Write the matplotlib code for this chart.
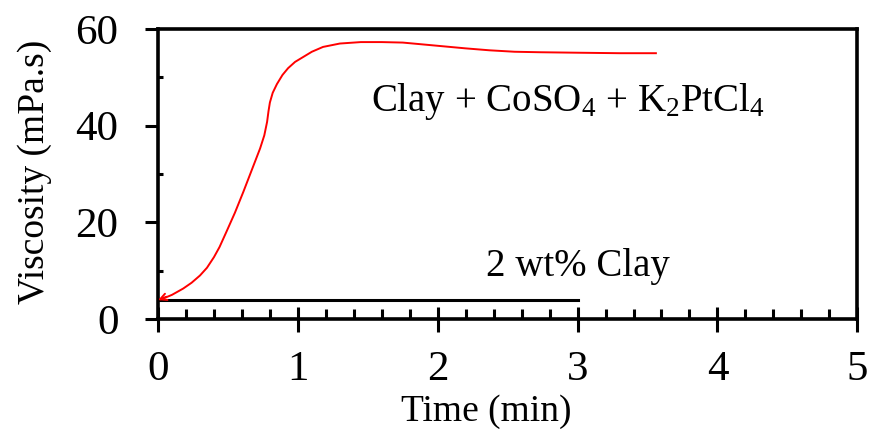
import matplotlib
matplotlib.use('Agg')
import matplotlib.pyplot as plt
import matplotlib.ticker as ticker

# data
clay_time = [0.0, 3.0]
clay_visc = [3.9, 3.9]

mix_time = [0.00, 0.05, 0.10, 0.18, 0.24, 0.30, 0.35, 0.40, 0.44, 0.49, 0.55, 0.61,
            0.67, 0.73, 0.76, 0.78, 0.79, 0.80, 0.82, 0.85, 0.89, 0.93, 0.98, 1.02,
            1.10, 1.18, 1.30, 1.45, 1.60, 1.75, 1.90, 2.05, 2.20, 2.37, 2.55, 2.73,
            3.00, 3.30, 3.56]
mix_visc = [3.9, 4.4, 5.0, 6.3, 7.5, 9.0, 10.6, 12.8, 14.9, 18.1, 22.0, 26.3,
            30.8, 35.3, 38.0, 40.8, 43.0, 44.8, 46.8, 48.6, 50.5, 51.9, 53.2, 53.9,
            55.3, 56.3, 57.0, 57.3, 57.3, 57.2, 56.8, 56.4, 56.0, 55.6, 55.3, 55.2,
            55.1, 55.0, 55.0]

plt.rcParams['font.family'] = ['Liberation Serif', 'DejaVu Serif']
plt.rcParams['mathtext.fontset'] = 'custom'
plt.rcParams['mathtext.rm'] = 'Liberation Serif'
plt.rcParams['mathtext.it'] = 'Liberation Serif:italic'
plt.rcParams['font.size'] = 28

fig = plt.figure(figsize=(8.73, 4.4), dpi=100)
ax = fig.add_axes([0.181, 0.275, 0.801, 0.659])

ax.plot(mix_time, mix_visc, color='red', lw=1.4, solid_joinstyle='round')
ax.plot(clay_time, clay_visc, color='black', lw=2.2)
ax.annotate('', xy=(0.0, 3.9), xytext=(0.06, 4.6),
            arrowprops=dict(arrowstyle='->', color='red', lw=1.4, mutation_scale=12,
                            shrinkA=0, shrinkB=0))

ax.text(2.93, 45, r'Clay + CoSO$_4$ + K$_2$PtCl$_4$', ha='center', va='center', fontsize=28)
ax.text(3.0, 10.8, '2 wt% Clay', ha='center', va='center', fontsize=28)

ax.set_xlim(0, 5)
ax.set_ylim(0, 60)
ax.xaxis.set_major_locator(ticker.MultipleLocator(1))
ax.xaxis.set_minor_locator(ticker.MultipleLocator(0.2))
ax.yaxis.set_major_locator(ticker.MultipleLocator(20))
ax.yaxis.set_minor_locator(ticker.MultipleLocator(10))

ax.tick_params(axis='x', which='major', direction='inout', length=18, width=2.2,
               pad=14, labelsize=31)
ax.tick_params(axis='x', which='minor', direction='in', length=7, width=2.2)
ax.tick_params(axis='y', which='major', direction='out', length=9.5, width=2.2,
               pad=19, labelsize=31)
ax.tick_params(axis='y', which='minor', direction='in', length=3.6, width=2.2)

for sp in ax.spines.values():
    sp.set_linewidth(2.6)

ax.set_xlabel('Time (min)', fontsize=27)
ax.set_ylabel('Viscosity (mPa.s)', fontsize=27)
ax.xaxis.set_label_coords(0.469, -0.26)
ax.yaxis.set_label_coords(-0.152, 0.507)

fig.savefig('out.png', dpi=100)
